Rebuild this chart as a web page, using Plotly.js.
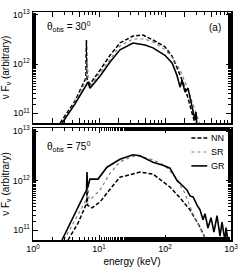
<!DOCTYPE html>
<html>
<head>
<meta charset="utf-8">
<script src="https://cdn.plot.ly/plotly-3.0.1.min.js"></script>
<style>html,body{margin:0;padding:0;background:#fff}#chart{width:240px;height:273px}</style>
</head>
<body>
<div id="chart"></div>
<script>
// ---- data (energy in keV, nuFnu arbitrary) ----
// top panel: theta_obs = 30 deg
var top_E_NN = [2.57, 4.33, 6.3, 6.45, 6.6, 7.3, 10.4, 14.7, 20.8, 32.7, 46.4, 65.8, 100, 128, 157, 187, 223, 257, 285];
var top_F_NN = [6.3e10, 1.78e11, 5.13e11, 3.09e12, 5.01e11, 3.89e11, 7.59e11, 1.51e12, 2.69e12, 3.72e12, 3.89e12, 3.09e12, 2.24e12, 1.45e12, 7.6e11, 4.27e11, 2.04e11, 1.05e11, 6.0e10];
var top_E_SR = [2.75, 4.33, 6.35, 6.65, 6.9, 7.3, 10.4, 14.7, 20.8, 32.7, 49.8, 70.5, 100, 132, 169, 208, 248, 295, 339];
var top_F_SR = [6.3e10, 1.66e11, 4.68e11, 1.20e12, 4.17e11, 3.55e11, 6.61e11, 1.26e12, 2.34e12, 3.24e12, 3.24e12, 2.69e12, 1.95e12, 1.32e12, 7.59e11, 3.89e11, 2.04e11, 1.05e11, 6.0e10];
var top_E_GR = [2.7, 4.33, 6.8, 7.3, 10.4, 14.7, 20.8, 32.7, 49.8, 65.8, 100, 128, 151, 169, 181, 201, 223, 257, 285, 295, 306];
var top_F_GR = [6.0e10, 1.55e11, 4.27e11, 3.24e11, 5.75e11, 1.10e12, 1.95e12, 2.69e12, 2.45e12, 2.14e12, 1.51e12, 1.05e12, 6.03e11, 3.39e11, 4.68e11, 2.69e11, 3.24e11, 1.26e11, 7.24e10, 1.05e11, 5.0e10];
// bottom panel: theta_obs = 75 deg
var bot_E_NN = [3.39, 4.81, 6.14, 6.47, 6.58, 6.7, 7.83, 10.4, 16.3, 20.8, 41.8, 65.8, 119, 169, 239, 339, 404];
var bot_F_NN = [6.3e10, 1.38e11, 2.95e11, 3.39e11, 7.08e11, 3.16e11, 2.82e11, 3.72e11, 7.94e11, 1.17e12, 1.48e12, 1.35e12, 7.41e11, 4.47e11, 2.57e11, 1.15e11, 6.9e10];
var bot_E_SR = [2.95, 4.33, 6.14, 6.58, 6.8, 7.05, 7.3, 10.4, 14.7, 20.8, 32.7, 41.8, 65.8, 100, 141, 200, 257, 339, 404, 433];
var bot_F_SR = [6.3e10, 1.62e11, 3.72e11, 4.90e11, 8.13e11, 4.27e11, 4.07e11, 6.46e11, 1.41e12, 2.40e12, 3.09e12, 3.09e12, 2.63e12, 2.00e12, 1.20e12, 5.6e11, 2.34e11, 1.12e11, 7.2e10, 6.0e10];
var bot_E_GR = [2.75, 4.04, 5.15, 6.14, 6.47, 6.58, 6.7, 7.3, 9.66, 13.2, 17.5, 20.8, 32.7, 41.8, 65.8, 93, 119, 151, 187, 215, 239, 266, 305, 339, 377, 404, 448, 498, 552, 614, 681, 731, 811, 840, 901];
var bot_F_GR = [6.3e10, 1.86e11, 3.55e11, 5.62e11, 6.31e11, 1.48e12, 7.08e11, 1.07e12, 1.07e12, 1.86e12, 2.34e12, 2.69e12, 3.31e12, 3.16e12, 2.34e12, 2.04e12, 1.78e12, 1.02e12, 7.76e11, 6.46e11, 4.90e11, 4.68e11, 3.24e11, 2.57e11, 1.62e11, 2.14e11, 1.10e11, 1.78e11, 9.12e10, 1.95e11, 7.59e10, 1.45e11, 6.0e10, 1.12e11, 6.0e10];
var seriesNames = ['NN', 'SR', 'GR'];
var xTickVals = [1, 10, 100, 1000];
var xTickText = ['10<sup>0</sup>', '10<sup>1</sup>', '10<sup>2</sup>', '10<sup>3</sup>'];
var yTickVals = [1e11, 1e12, 1e13];
var yTickText = ['10<sup>11</sup>', '10<sup>12</sup>', '10<sup>13</sup>'];

var FONT = 'Liberation Sans Narrow, Liberation Sans, Arial, sans-serif';
var styles = {
  NN: {color: '#000', width: 1.5, dash: '4px,2px'},
  SR: {color: '#808080', width: 1.2, dash: 'dot'},
  GR: {color: '#000', width: 1.6, dash: 'solid'}
};
var topData = {NN: [top_E_NN, top_F_NN], SR: [top_E_SR, top_F_SR], GR: [top_E_GR, top_F_GR]};
var botData = {NN: [bot_E_NN, bot_F_NN], SR: [bot_E_SR, bot_F_SR], GR: [bot_E_GR, bot_F_GR]};
var traces = [];
seriesNames.forEach(function (n) {
  traces.push({x: topData[n][0], y: topData[n][1], xaxis: 'x2', yaxis: 'y', mode: 'lines',
    name: n, showlegend: false, line: styles[n]});
});
seriesNames.forEach(function (n) {
  traces.push({x: botData[n][0], y: botData[n][1], xaxis: 'x', yaxis: 'y2', mode: 'lines',
    name: n, showlegend: false, line: styles[n]});
});

var axCommon = {
  type: 'log', ticks: 'inside', ticklen: 5, tickwidth: 1, tickcolor: '#000',
  showline: true, linecolor: '#000', linewidth: 1.5, mirror: 'allticks',
  showgrid: false, zeroline: false, ticklabeloverflow: 'allow',
  tickfont: {family: FONT, size: 9, color: '#000'},
  minor: {ticks: 'inside', ticklen: 3, tickcolor: '#000', tickwidth: 1, showgrid: false}
};
function ax(extra) { return Object.assign({}, JSON.parse(JSON.stringify(axCommon)), extra); }
var ytitle = {text: '\u03bd F<sub>\u03bd</sub> (arbitrary)', font: {family: FONT, size: 10}, standoff: 3};

// manual legend (rows in paper coords)
var legendRows = [{n: 'NN', y: 0.447}, {n: 'SR', y: 0.386}, {n: 'GR', y: 0.325}];
var shapes = [], annotations = [];
legendRows.forEach(function (r) {
  shapes.push({type: 'line', xref: 'paper', yref: 'paper', x0: 0.8, x1: 0.88, y0: r.y, y1: r.y,
    line: {color: styles[r.n].color, width: styles[r.n].width, dash: styles[r.n].dash}});
  annotations.push({xref: 'paper', yref: 'paper', x: 0.89, y: r.y, xanchor: 'left', yanchor: 'middle',
    showarrow: false, text: r.n, font: {family: FONT, size: 9}});
});
annotations.push(
  {xref: 'paper', yref: 'paper', x: 0.06, y: 0.935, xanchor: 'left', yanchor: 'middle', showarrow: false,
    text: '\u03b8<sub>obs</sub> = 30<sup>0</sup>', font: {family: FONT, size: 10}},
  {xref: 'paper', yref: 'paper', x: 0.96, y: 0.93, xanchor: 'right', yanchor: 'middle', showarrow: false,
    text: '(a)', font: {family: FONT, size: 10}},
  {xref: 'paper', yref: 'paper', x: 0.06, y: 0.41, xanchor: 'left', yanchor: 'middle', showarrow: false,
    text: '\u03b8<sub>obs</sub> = 75<sup>0</sup>', font: {family: FONT, size: 10}}
);

var layout = {
  width: 240, height: 273,
  margin: {l: 33, r: 9, t: 12, b: 33},
  paper_bgcolor: '#fff', plot_bgcolor: '#fff',
  font: {family: FONT, size: 10, color: '#000'},
  showlegend: false,
  xaxis: ax({anchor: 'y2', range: [0, 3], tickvals: xTickVals, ticktext: xTickText,
    title: {text: 'energy (keV)', font: {family: FONT, size: 10}, standoff: 4}}),
  xaxis2: ax({anchor: 'y', range: [0, 3], matches: 'x', showticklabels: false}),
  yaxis: ax({anchor: 'x2', domain: [0.513, 1], range: [10.8, 13.06], tickvals: yTickVals, ticktext: yTickText,
    title: ytitle}),
  yaxis2: ax({anchor: 'x', domain: [0, 0.491], range: [10.8, 13.06], tickvals: yTickVals, ticktext: yTickText,
    title: ytitle}),
  shapes: shapes,
  annotations: annotations
};
Plotly.newPlot('chart', traces, layout, {staticPlot: true, displayModeBar: false});
</script>
</body>
</html>
